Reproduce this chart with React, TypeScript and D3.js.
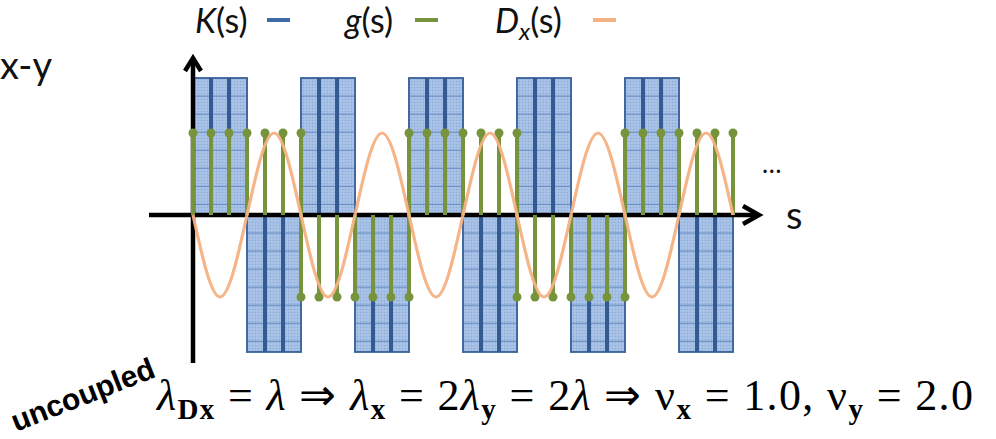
import React from 'react';
import * as d3 from 'd3';

// K(s): one value per magnet cell (3 cells per block)
const kValues = [
  1.67, 1.67, 1.67, -1.67, -1.67, -1.67,
  1.67, 1.67, 1.67, -1.67, -1.67, -1.67,
  1.67, 1.67, 1.67, -1.67, -1.67, -1.67,
  1.67, 1.67, 1.67, -1.67, -1.67, -1.67,
  1.67, 1.67, 1.67, -1.67, -1.67, -1.67,
];
const cellsPerBlock = 3;

// g(s): stems at each cell boundary (switch points carry both signs)
const gPositions = [
  0, 1, 2, 3, 4, 5, 6,
  6, 7, 8, 9, 10, 11, 12,
  12, 13, 14, 15, 16, 17, 18,
  18, 19, 20, 21, 22, 23, 24,
  24, 25, 26, 27, 28, 29, 30,
];
const gValues = [
  1, 1, 1, 1, 1, 1, 1,
  -1, -1, -1, -1, -1, -1, -1,
  1, 1, 1, 1, 1, 1, 1,
  -1, -1, -1, -1, -1, -1, -1,
  1, 1, 1, 1, 1, 1, 1,
];

// D_x(s): zeros and extrema
const dxPositions = [0, 1.5, 3, 4.5, 6, 7.5, 9, 10.5, 12, 13.5, 15, 16.5, 18, 19.5, 21, 22.5, 24, 25.5, 27, 28.5, 30];
const dxValues = [0, -1, 0, 1, 0, -1, 0, 1, 0, -1, 0, 1, 0, -1, 0, 1, 0, -1, 0, 1, 0];

const legendItems = [
  { label: 'K', sub: '', color: '#3f6aa6', x: 195, dash: 267 },
  { label: 'g', sub: '', color: '#77933c', x: 345, dash: 415 },
  { label: 'D', sub: 'x', color: '#f4b183', x: 495, dash: 593 },
];

const W = 996;
const H = 439;
const gridStep = 0.22;

export default function App() {
  const x = d3.scaleLinear().domain([0, 30]).range([193, 733]);
  const y = d3.scaleLinear().domain([-1, 1]).range([297, 133]);
  const y0 = y(0);

  const dxLine = d3.line<number>()
    .x((d, i) => x(dxPositions[i]))
    .y(d => y(d))
    .curve(d3.curveNatural);

  const blocks = d3.range(kValues.length / cellsPerBlock).map(b => {
    const start = b * cellsPerBlock;
    return { start, end: start + cellsPerBlock, k: kValues[start] };
  });

  const sub = (t: string) => (
    <tspan fontWeight="bold" fontFamily="Liberation Serif" fontStyle="normal" fontSize={29} dy={9}>{t}</tspan>
  );

  return (
    <svg width={W} height={H} style={{ position: 'absolute', left: 0, top: 0 }}>
      <defs>
        <pattern id="dots" width="3" height="3" patternUnits="userSpaceOnUse">
          <rect width="3" height="3" fill="#a4bfe5" />
          <rect width="1" height="1" fill="#89a9d6" />
          <rect x="1.5" y="1.5" width="1" height="1" fill="#b7cdec" />
        </pattern>
      </defs>

      {/* left label */}
      <text x={0} y={79} fontFamily="Lato" fontSize={38} fill="#111">x-y</text>

      {/* legend */}
      {legendItems.map(it => (
        <g key={it.label}>
          <text x={it.x} y={33} fontFamily="Lato" fontSize={34} fill="#111">
            <tspan fontStyle="italic">{it.label}</tspan>
            {it.sub && <tspan fontStyle="italic" fontSize={24} dy={7}>{it.sub}</tspan>}
            <tspan dy={it.sub ? -7 : 0}>(s)</tspan>
          </text>
          <line x1={it.dash} x2={it.dash + 23} y1={20} y2={20} stroke={it.color} strokeWidth={4} />
        </g>
      ))}

      {/* K(s) cells */}
      {kValues.map((k, i) => (
        <rect key={'c' + i} x={x(i)} width={x(i + 1) - x(i)}
          y={k > 0 ? y(k) : y0} height={Math.abs(y(k) - y0)} fill="url(#dots)" />
      ))}
      {kValues.map((k, i) => {
        const lines = [];
        for (let v = gridStep; v < Math.abs(k) - 0.05; v += gridStep) {
          const yy = k > 0 ? y(k - v) : y(-v);
          lines.push(<line key={i + '-' + v} x1={x(i)} x2={x(i + 1)} y1={yy} y2={yy} stroke="#6489c0" strokeWidth={1} />);
        }
        return <g key={'h' + i}>{lines}</g>;
      })}
      {blocks.map((b, bi) => (
        <g key={'b' + bi}>
          <rect x={x(b.start)} width={x(b.end) - x(b.start)}
            y={b.k > 0 ? y(b.k) : y0} height={Math.abs(y(b.k) - y0)}
            fill="none" stroke="#4169a0" strokeWidth={2} />
          {d3.range(b.start + 1, b.end).map(c => (
            <line key={c} x1={x(c)} x2={x(c)} y1={y(b.k)} y2={y0} stroke="#345a94" strokeWidth={4} />
          ))}
        </g>
      ))}

      {/* axes */}
      <line x1={149} x2={758} y1={y0} y2={y0} stroke="#000" strokeWidth={4.5} />
      <polyline points={`${743},${y0 - 9} ${759},${y0} ${743},${y0 + 9}`} fill="none" stroke="#000" strokeWidth={4.5} />
      <line x1={x(0)} x2={x(0)} y1={363} y2={59} stroke="#000" strokeWidth={4.5} />
      <polyline points={`${x(0) - 8},${71} ${x(0)},${58} ${x(0) + 8},${71}`} fill="none" stroke="#000" strokeWidth={4.5} />

      {/* g(s) stems */}
      {gPositions.map((p, i) => (
        <g key={'g' + i}>
          <line x1={x(p)} x2={x(p)} y1={y0} y2={y(gValues[i])} stroke="#77933c" strokeWidth={4} />
          <circle cx={x(p)} cy={y(gValues[i])} r={4.5} fill="#77933c" />
        </g>
      ))}

      {/* D_x(s) */}
      <path d={dxLine(dxValues) || ''} fill="none" stroke="#f4b183" strokeWidth={3.2} strokeOpacity={0.95} />

      <text x={762} y={173} fontFamily="Lato" fontSize={26} fill="#111">…</text>
      <text x={786} y={229} fontFamily="Lato" fontSize={38} fill="#111">s</text>

      {/* formula */}
      <text x={157} y={410} fontFamily="Liberation Serif" fontSize={44} fill="#000" textLength={816} lengthAdjust="spacing">
        <tspan fontStyle="italic">λ</tspan>{sub('Dx')}
        <tspan dy={-9}> = </tspan><tspan fontStyle="italic">λ</tspan><tspan> ⇒ </tspan>
        <tspan fontStyle="italic">λ</tspan>{sub('x')}
        <tspan dy={-9}> = 2</tspan><tspan fontStyle="italic">λ</tspan>{sub('y')}
        <tspan dy={-9}> = 2</tspan><tspan fontStyle="italic">λ</tspan><tspan> ⇒ ν</tspan>{sub('x')}
        <tspan dy={-9}> = 1.0, ν</tspan>{sub('y')}
        <tspan dy={-9}> = 2.0</tspan>
      </text>

      <text transform="translate(16,432) rotate(-21.5)" fontFamily="Liberation Sans" fontWeight="bold" fontSize={30} fill="#000">uncoupled</text>
    </svg>
  );
}
